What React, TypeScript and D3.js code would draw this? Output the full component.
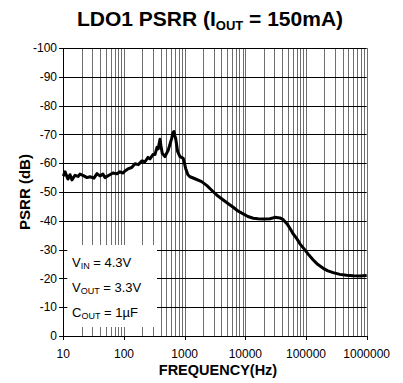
import React from "react";
import * as d3 from "d3";

const freqHz = [
  10, 10.7, 11.9, 12.9, 13.9, 15.6, 17.5, 18.8, 21.9, 24.6, 27.5, 32, 35.9, 40.2, 45.1, 48.6,
  56.6, 65.9, 76.7, 85.9, 96.3, 103.8, 116, 134, 152, 172, 198, 222, 249, 268, 300, 324, 350,
  367, 392, 407, 428, 473, 537, 611, 640, 667, 690, 711, 767, 838, 949, 1038, 1132, 1222, 1478,
  1906, 2328, 2958, 3536, 4326, 5168, 6318, 7554, 9231, 11030, 13500, 16130, 19720, 25420,
  30740, 37150, 42110, 48440, 54290, 60810, 70000, 79400, 96000, 111700, 131500, 157100,
  192000, 229600, 280600, 361500, 466500, 592900, 773000, 1000000,
];
const psrrDb = [
  -55.5, -57, -54.5, -56, -54.2, -55.8, -55.4, -56.2, -55.6, -55, -55.3, -54.8, -56.4, -55.6,
  -56.2, -55, -55.8, -56.6, -56.3, -57, -56.6, -57.3, -58, -58.5, -59.8, -59.5, -60.8, -60.5,
  -62, -61.5, -63, -63, -65.5, -65, -68.3, -66, -63.4, -62.3, -64.6, -68.6, -70.5, -71, -69.5,
  -68.6, -64, -62.3, -61.7, -58.2, -56, -55.3, -54.6, -53.6, -52.2, -50.1, -48.6, -47.2, -46,
  -44.7, -43.4, -42.4, -41.5, -40.9, -40.7, -40.6, -40.7, -41.2, -41, -40.4, -39, -37.4, -35.6,
  -33.9, -32, -29.9, -28.1, -26.4, -24.8, -23.5, -22.6, -22, -21.4, -21.1, -20.9, -20.8, -21,
];
const yTicks = [0, -10, -20, -30, -40, -50, -60, -70, -80, -90, -100];
const xDecades = [10, 100, 1000, 10000, 100000, 1000000];
const legendLines = [
  { main: "V", sub: "IN", rest: " = 4.3V" },
  { main: "V", sub: "OUT", rest: " = 3.3V" },
  { main: "C", sub: "OUT", rest: " = 1µF" },
];

const FONT = "'Liberation Sans', Arial, sans-serif";

export default function App() {
  const x = d3.scaleLog().domain([10, 1e6]).range([63.3, 366.7]);
  const y = d3.scaleLinear().domain([0, -100]).range([336, 48]);
  const [x0, x1] = x.range();
  const [yb, yt] = y.range();

  const minor: number[] = [];
  for (let dec = 10; dec < 1e6; dec *= 10) {
    for (let k = 1; k <= 10; k++) minor.push(dec * k);
  }
  const data = freqHz.map((f, i) => [f, psrrDb[i]] as [number, number]);
  const line = d3
    .line<[number, number]>()
    .x((d) => x(d[0]))
    .y((d) => y(d[1]));

  const box = { x: 64, y: 245, w: 93, h: 82 };

  return (
    <svg
      width={403}
      height={383}
      style={{ position: "absolute", left: 0, top: 0, background: "#fff" }}
      fontFamily={FONT}
    >
      <rect width={403} height={383} fill="#fff" />
      {/* vertical gridlines */}
      {minor.map((f, i) => (
        <line
          key={"v" + i}
          x1={Math.round(x(f)) + 0.5}
          x2={Math.round(x(f)) + 0.5}
          y1={yt}
          y2={yb}
          stroke="#6e6e6e"
          strokeWidth={1}
        />
      ))}
      {/* horizontal gridlines */}
      {yTicks.map((t) => (
        <line
          key={"h" + t}
          x1={x0 - 4}
          x2={x1}
          y1={Math.round(y(t)) + 0.5}
          y2={Math.round(y(t)) + 0.5}
          stroke="#000"
          strokeWidth={1}
        />
      ))}
      {/* legend box */}
      <rect x={box.x} y={box.y} width={box.w} height={box.h} fill="#fff" />
      {/* axes */}
      <line x1={Math.round(x0) + 0.5} x2={Math.round(x0) + 0.5} y1={yt} y2={yb + 4} stroke="#000" strokeWidth={1} />
      <line x1={x0} x2={x1} y1={Math.round(yb) + 0.5} y2={Math.round(yb) + 0.5} stroke="#000" strokeWidth={1} />
      {yTicks.map((t) => (
        <line
          key={"yt" + t}
          x1={x0 - 4}
          x2={x0 + 4}
          y1={Math.round(y(t)) + 0.5}
          y2={Math.round(y(t)) + 0.5}
          stroke="#000"
        />
      ))}
      {xDecades.map((f) => (
        <line
          key={"xt" + f}
          x1={Math.round(x(f)) + 0.5}
          x2={Math.round(x(f)) + 0.5}
          y1={yb}
          y2={yb + 4}
          stroke="#000"
        />
      ))}
      {/* data line */}
      <path d={line(data) || ""} fill="none" stroke="#000" strokeWidth={3} strokeLinejoin="round" />
      {/* y tick labels */}
      {yTicks.map((t) => (
        <text
          key={"yl" + t}
          x={57}
          y={y(t)}
          dy="0.35em"
          textAnchor="end"
          fontSize={12}
          fill="#000"
        >
          {String(t)}
        </text>
      ))}
      {/* x tick labels */}
      {xDecades.map((f) => (
        <text key={"xl" + f} x={x(f)} y={358} textAnchor="middle" fontSize={12} fill="#000">
          {String(f)}
        </text>
      ))}
      {/* legend text */}
      {legendLines.map((l, i) => (
        <text key={"lg" + i} x={72} y={267 + i * 25.2} fontSize={13} fill="#000">
          {l.main}
          <tspan fontSize={9} dy={2}>
            {l.sub}
          </tspan>
          <tspan dy={-2}>{l.rest}</tspan>
        </text>
      ))}
      {/* title */}
      <text x={210} y={25.5} textAnchor="middle" fontSize={21} fontWeight="bold" fill="#000">
        LDO1 PSRR (I
        <tspan fontSize={13} dy={4}>
          OUT
        </tspan>
        <tspan dy={-4}> = 150mA)</tspan>
      </text>
      {/* axis titles */}
      <text
        transform={`translate(30,${(yt + yb) / 2}) rotate(-90)`}
        textAnchor="middle"
        fontSize={15}
        fontWeight="bold"
        fill="#000"
      >
        PSRR (dB)
      </text>
      <text x={218} y={375} textAnchor="middle" fontSize={14.5} fontWeight="bold" fill="#000">
        FREQUENCY(Hz)
      </text>
    </svg>
  );
}
